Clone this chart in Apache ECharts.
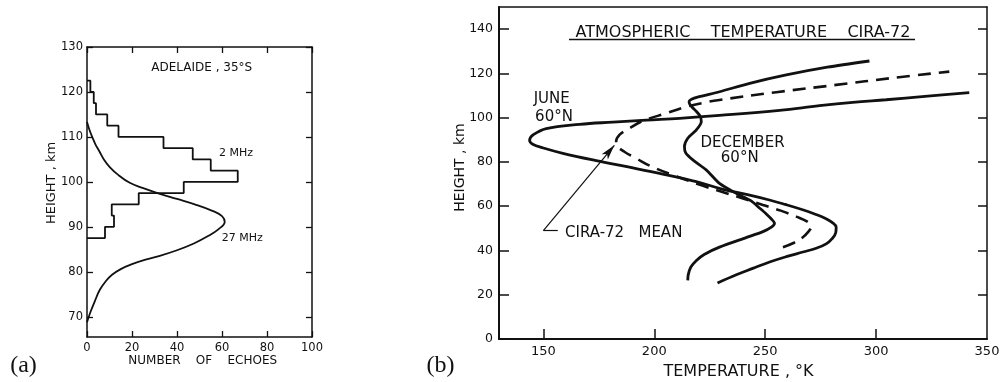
<!DOCTYPE html>
<html>
<head>
<meta charset="utf-8">
<script src="https://cdn.jsdelivr.net/npm/echarts@6/dist/echarts.min.js"></script>
<style>
html,body{margin:0;padding:0;background:#fff;}
#chart{width:1005px;height:382px;}
</style>
</head>
<body>
<div id="chart"></div>
<script>
// ---------- Panel (a): Adelaide, 35°S ----------
const echoTicks = [0, 20, 40, 60, 80, 100];
const heightTicksA = [70, 80, 90, 100, 110, 120, 130];
// 2 MHz histogram: lower bin edges (km) and number of echoes per 2.5 km bin
const binLower2MHz = [87.5, 90, 92.5, 95, 97.5, 100, 102.5, 105, 107.5, 110, 112.5, 115, 117.5, 120];
const binWidth2MHz = 2.5;
const echoes2MHz = [8, 12, 11, 23, 43, 67, 55, 47, 34, 14, 9, 4, 3, 1.5];
// 27 MHz distribution: [number of echoes, height km]
const curve27MHz = [
  [0, 68.8], [1.5, 71], [3.5, 73.5], [5.7, 76], [8.5, 78], [11, 79.3], [15, 80.6], [20, 81.7],
  [26, 82.7], [32, 83.5], [40, 84.8], [47.5, 86.3], [54, 88], [58.5, 89.5], [61.2, 91.1],
  [60, 92.4], [56, 93.5], [48.5, 94.9], [40, 96.2], [32, 97.4], [25, 98.6], [19, 99.8],
  [14, 101.5], [10.1, 103.3], [7.5, 105], [5.6, 106.7], [3.8, 108.3], [2.3, 110], [1, 111.7], [0, 113.3]
];

// ---------- Panel (b): Atmospheric temperature CIRA-72 ----------
const tempLabels = [150, 200, 250, 300, 350];
const tempTicks = [150, 200, 250, 300];
const heightTicksB = [0, 20, 40, 60, 80, 100, 120, 140];
const heightTicksBRight = [20, 40, 60, 80, 100, 120, 140];
// [temperature K, height km]
const june60N = [
  [228.5, 25.3], [237, 29], [244.4, 31.9], [252, 34.8], [259.5, 37.2], [267, 39.3], [273, 41],
  [277.5, 43], [280.3, 45.5], [281.8, 48], [282, 50.5], [280, 52.8], [277, 54.6], [272, 56.6],
  [266.9, 58.4], [259, 60.8], [251.9, 62.8], [242, 65.2], [231, 67.6], [218.9, 71.1],
  [203.8, 74.5], [188.8, 77.6], [173.8, 80.6], [158.8, 83.9], [150, 86.3], [145.2, 88],
  [143.8, 89.8], [145.5, 92.3], [151.3, 95.1], [166.3, 97.0], [181.3, 98.0], [196.4, 98.9],
  [211.4, 99.7], [229.4, 101.0], [256.5, 103.3], [274.5, 105.4], [289.5, 106.9],
  [304.5, 108.1], [322, 109.6], [342, 111.3]
];
const december60N = [
  [215.1, 26.5], [215.3, 29], [216.5, 32.5], [219, 35.5], [222.5, 38.2], [229.4, 41.5],
  [241.4, 45.8], [249, 48.5], [252.8, 50.5], [254.2, 52.3], [252.8, 54.2], [250.5, 56.5],
  [247.4, 59.2], [243.5, 62.5], [237.5, 65.5], [229.4, 70.3], [223.4, 76.4], [217.4, 80.9],
  [214.2, 84], [213.6, 86.9], [215.1, 90.7], [218.9, 94.4], [221.2, 98.2], [220.8, 100.5],
  [219, 102.8], [217, 104.8], [215.9, 106.3], [215.7, 107.3], [216.8, 108.3], [219.5, 109.3],
  [229.4, 111.7], [243, 115.5], [259.5, 119.3], [278, 122.8], [297, 125.6]
];
const ciraMean = [
  [258, 41.5], [263, 43.5], [267, 46], [269.5, 48.5], [270.7, 50.7], [269, 53], [264, 55.3],
  [257, 58], [249, 60.5], [240, 63.5], [230.4, 66.5], [222, 69.2], [208.3, 74.1], [198, 78.3],
  [191.9, 81.6], [186.5, 84.6], [183.5, 87], [182.8, 89.1], [184.3, 92.2], [188.8, 95.2],
  [194.8, 98.5], [205.4, 102], [214, 104.8], [222, 106.7], [229.4, 108], [255, 111.5],
  [282, 114.8], [308, 118], [333, 120.8]
];
// pointer for "CIRA-72 MEAN": elbow, end of short leader, arrow tip  [K, km]
const pointerElbow = [150, 49];
const pointerLeaderEnd = [156.5, 49];
const pointerTip = [182, 87.5];

// ---------- build the step outline of the histogram ----------
const hist2MHz = [[0, binLower2MHz[0]]];
binLower2MHz.forEach((lo, i) => {
  hist2MHz.push([echoes2MHz[i], lo]);
  hist2MHz.push([echoes2MHz[i], lo + binWidth2MHz]);
});
hist2MHz.push([0, binLower2MHz[binLower2MHz.length - 1] + binWidth2MHz]);

const INK = '#111';
const FONT = 'DejaVu Sans';

function axisBase(extra) {
  return Object.assign({
    type: 'value',
    splitLine: { show: false },
    axisLine: { show: true, onZero: false, lineStyle: { color: INK, width: 1.5 } },
    axisTick: { show: true, inside: true, length: 6, lineStyle: { color: INK, width: 1.3 } },
    axisLabel: { color: INK, fontFamily: FONT, fontSize: 11 }
  }, extra);
}

function txt(x, y, text, size, opts) {
  const o = opts || {};
  return {
    type: 'text', x: x, y: y, rotation: o.rotation || 0, silent: true,
    style: {
      text: text,
      font: size + 'px "' + (o.family || FONT) + '"',
      fill: INK,
      align: o.align || 'center', verticalAlign: 'middle',
      textAlign: o.align || 'center', textVerticalAlign: 'middle'
    }
  };
}

const chart = echarts.init(document.getElementById('chart'), null, { renderer: 'canvas' });

const option = {
  animation: false,
  backgroundColor: '#fff',
  grid: [
    { left: 87, top: 47, width: 225, height: 290 },
    { left: 499, top: 7, width: 488, height: 332 }
  ],
  xAxis: [
    axisBase({ gridIndex: 0, position: 'bottom', min: 0, max: 100, interval: 20,
      axisLabel: { color: INK, fontFamily: FONT, fontSize: 11.5, margin: 5, customValues: echoTicks },
      axisTick: { show: true, inside: true, length: 6, customValues: echoTicks, lineStyle: { color: INK, width: 1.3 } } }),
    axisBase({ gridIndex: 0, position: 'top', min: 0, max: 100, interval: 20,
      axisLabel: { show: false },
      axisTick: { show: true, inside: true, length: 6, customValues: echoTicks, lineStyle: { color: INK, width: 1.3 } } }),
    axisBase({ gridIndex: 1, position: 'bottom', min: 130, max: 350,
      axisLine: { show: true, onZero: false, lineStyle: { color: INK, width: 2 } },
      axisLabel: { color: INK, fontFamily: FONT, fontSize: 13, margin: 6, customValues: tempLabels },
      axisTick: { show: true, inside: true, length: 10, customValues: tempTicks, lineStyle: { color: INK, width: 1.5 } } }),
    axisBase({ gridIndex: 1, position: 'top', min: 130, max: 350,
      axisLine: { show: true, onZero: false, lineStyle: { color: INK, width: 1.5 } },
      axisLabel: { show: false }, axisTick: { show: false } })
  ],
  yAxis: [
    axisBase({ gridIndex: 0, position: 'left', min: 65.5, max: 130,
      axisLabel: { color: INK, fontFamily: FONT, fontSize: 11.5, margin: 4, customValues: heightTicksA },
      axisTick: { show: true, inside: true, length: 6, customValues: heightTicksA, lineStyle: { color: INK, width: 1.3 } } }),
    axisBase({ gridIndex: 0, position: 'right', min: 65.5, max: 130,
      axisLabel: { show: false },
      axisTick: { show: true, inside: true, length: 6, customValues: heightTicksA, lineStyle: { color: INK, width: 1.3 } } }),
    axisBase({ gridIndex: 1, position: 'left', min: 0, max: 150,
      axisLine: { show: true, onZero: false, lineStyle: { color: INK, width: 2 } },
      axisLabel: { color: INK, fontFamily: FONT, fontSize: 12.5, margin: 6, customValues: heightTicksB },
      axisTick: { show: true, inside: true, length: 10, customValues: heightTicksB, lineStyle: { color: INK, width: 1.5 } } }),
    axisBase({ gridIndex: 1, position: 'right', min: 0, max: 150,
      axisLine: { show: true, onZero: false, lineStyle: { color: INK, width: 1.5 } },
      axisLabel: { show: false },
      axisTick: { show: true, inside: true, length: 9, customValues: heightTicksBRight, lineStyle: { color: INK, width: 1.5 } } })
  ],
  series: [
    { name: '2 MHz', type: 'line', xAxisIndex: 0, yAxisIndex: 0, data: hist2MHz,
      showSymbol: false, symbol: 'none', smooth: false, silent: true,
      lineStyle: { color: INK, width: 1.8 } },
    { name: '27 MHz', type: 'line', xAxisIndex: 0, yAxisIndex: 0, data: curve27MHz,
      showSymbol: false, symbol: 'none', smooth: 0.4, silent: true,
      lineStyle: { color: INK, width: 1.8 } },
    { name: 'JUNE 60°N', type: 'line', xAxisIndex: 2, yAxisIndex: 2, data: june60N,
      showSymbol: false, symbol: 'none', smooth: 0.4, silent: true,
      lineStyle: { color: INK, width: 2.8 } },
    { name: 'DECEMBER 60°N', type: 'line', xAxisIndex: 2, yAxisIndex: 2, data: december60N,
      showSymbol: false, symbol: 'none', smooth: 0.25, silent: true,
      lineStyle: { color: INK, width: 2.8 } },
    { name: 'CIRA-72 MEAN', type: 'line', xAxisIndex: 2, yAxisIndex: 2, data: ciraMean,
      showSymbol: false, symbol: 'none', smooth: 0.4, silent: true,
      lineStyle: { color: INK, width: 2.6, type: [13, 8] },
      markLine: {
        silent: true, animation: false,
        label: { show: false },
        lineStyle: { color: INK, width: 1.2, type: 'solid' },
        symbol: ['none', 'arrow'], symbolSize: [6, 15],
        data: [
          [{ coord: pointerElbow, symbol: 'none' }, { coord: pointerTip, symbol: 'arrow', symbolSize: [6, 15] }],
          [{ coord: pointerElbow, symbol: 'none' }, { coord: pointerLeaderEnd, symbol: 'none' }]
        ]
      } }
  ],
  graphic: [
    // panel (a)
    txt(201.7, 68, 'ADELAIDE , 35°S', 12),
    txt(219, 153.5, '2 MHz', 11, { align: 'left' }),
    txt(221.7, 238.5, '27 MHz', 11, { align: 'left' }),
    txt(51.7, 183, 'HEIGHT , km', 13, { rotation: Math.PI / 2 }),
    txt(202.7, 361, 'NUMBER    OF    ECHOES', 12),
    txt(23.5, 366, '(a)', 24, { family: 'Liberation Serif' }),
    // panel (b)
    txt(743, 32.5, 'ATMOSPHERIC    TEMPERATURE    CIRA-72', 16),
    { type: 'line', silent: true, shape: { x1: 569, y1: 39.5, x2: 915, y2: 39.5 }, style: { stroke: INK, lineWidth: 1.5 } },
    txt(551.7, 99, 'JUNE', 15),
    txt(554, 117.5, '60°N', 15),
    txt(742.5, 143, 'DECEMBER', 15),
    txt(739.7, 158.5, '60°N', 15),
    txt(565, 233.5, 'CIRA-72   MEAN', 15, { align: 'left' }),
    txt(460, 167.5, 'HEIGHT , km', 14, { rotation: Math.PI / 2 }),
    txt(738.5, 372, 'TEMPERATURE , °K', 16),
    txt(440.5, 366, '(b)', 24, { family: 'Liberation Serif' })
  ]
};
chart.setOption(option);
</script>
</body>
</html>
